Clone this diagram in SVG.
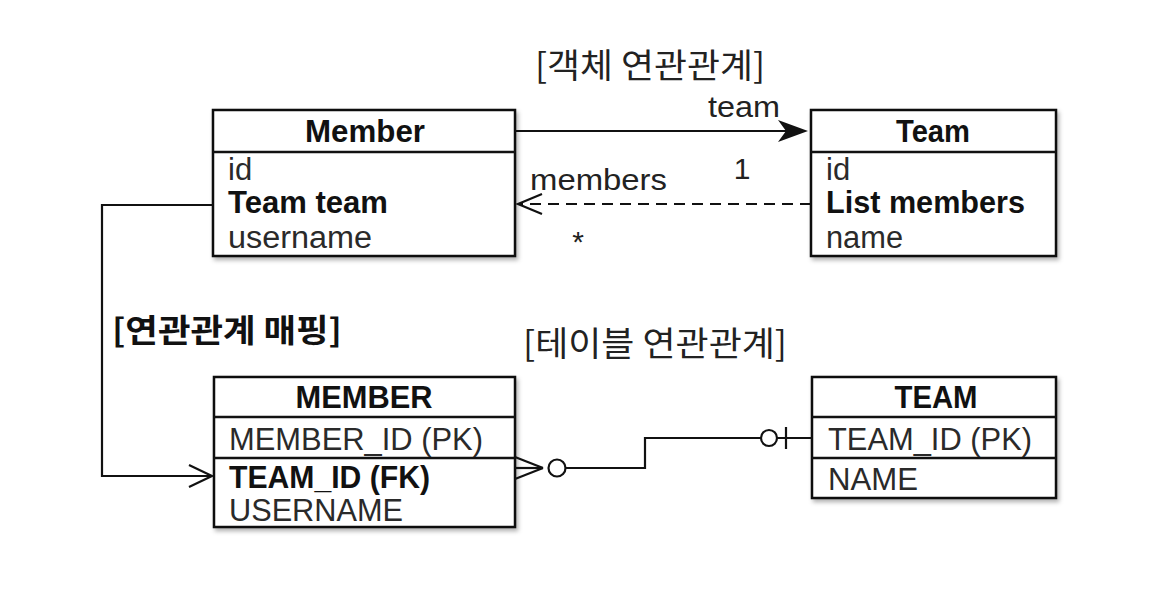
<svg xmlns="http://www.w3.org/2000/svg" width="1174" height="590" viewBox="0 0 1174 590">
  <defs>
    <filter id="shadow" x="-10%" y="-10%" width="130%" height="130%">
      <feDropShadow dx="2" dy="3" stdDeviation="2" flood-color="#000" flood-opacity="0.3"/>
    </filter>
    <style>
      .box { fill: #fff; stroke: #111; stroke-width: 2.5; }
      .div { stroke: #111; stroke-width: 2.5; }
      .hdr { font-family: "Liberation Sans", Arial, sans-serif; font-weight: bold; font-size: 32px; fill: #111; text-anchor: middle; }
      .fld { font-family: "Liberation Sans", Arial, sans-serif; font-size: 31px; fill: #2a2a2a; }
      .fldb { font-family: "Liberation Sans", Arial, sans-serif; font-size: 31px; font-weight: bold; fill: #111; }
      .lbl { font-family: "Liberation Sans", Arial, sans-serif; font-size: 30px; fill: #222; }
      .ko { font-family: "Noto Sans CJK KR", "Liberation Sans", sans-serif; font-size: 34px; fill: #222; }
      .kob { font-family: "Noto Sans CJK KR", "Liberation Sans", sans-serif; font-size: 32px; font-weight: bold; fill: #111; }
      .ln { fill: none; stroke: #111; stroke-width: 2.2; }
      .dash { fill: none; stroke: #111; stroke-width: 2.2; stroke-dasharray: 11 7; }
    </style>
  </defs>
  <rect width="1174" height="590" fill="#fff"/>

  <text class="ko" x="535" y="78" textLength="230" lengthAdjust="spacingAndGlyphs">[객체 연관관계]</text>
  <text class="ko" x="523" y="356" textLength="264" lengthAdjust="spacingAndGlyphs">[테이블 연관관계]</text>
  <text class="kob" x="112" y="342" textLength="230" lengthAdjust="spacingAndGlyphs">[연관관계 매핑]</text>

  <g id="member">
    <rect class="box" x="213" y="110" width="302" height="146" filter="url(#shadow)"/>
    <line class="div" x1="213" y1="152" x2="515" y2="152"/>
    <text class="hdr" x="365" y="142" textLength="120" lengthAdjust="spacingAndGlyphs">Member</text>
    <text class="fld" x="228" y="180">id</text>
    <text class="fldb" x="228" y="213" textLength="160" lengthAdjust="spacingAndGlyphs">Team team</text>
    <text class="fld" x="228" y="248" textLength="144" lengthAdjust="spacingAndGlyphs">username</text>
  </g>

  <g id="team">
    <rect class="box" x="811" y="110" width="245" height="146" filter="url(#shadow)"/>
    <line class="div" x1="811" y1="152" x2="1056" y2="152"/>
    <text class="hdr" x="933" y="142" textLength="74" lengthAdjust="spacingAndGlyphs">Team</text>
    <text class="fld" x="826" y="180">id</text>
    <text class="fldb" x="826" y="213" textLength="199" lengthAdjust="spacingAndGlyphs">List members</text>
    <text class="fld" x="826" y="248" textLength="77" lengthAdjust="spacingAndGlyphs">name</text>
  </g>

  <g id="MEMBER">
    <rect class="box" x="214" y="377" width="301" height="150" filter="url(#shadow)"/>
    <line class="div" x1="214" y1="417" x2="515" y2="417"/>
    <line class="div" x1="214" y1="458" x2="515" y2="458"/>
    <text class="hdr" x="364" y="408" textLength="137" lengthAdjust="spacingAndGlyphs">MEMBER</text>
    <text class="fld" x="229" y="450" textLength="254" lengthAdjust="spacingAndGlyphs">MEMBER_ID (PK)</text>
    <text class="fldb" x="229" y="488" textLength="201" lengthAdjust="spacingAndGlyphs">TEAM_ID (FK)</text>
    <text class="fld" x="229" y="521" textLength="174" lengthAdjust="spacingAndGlyphs">USERNAME</text>
  </g>

  <g id="TEAM">
    <rect class="box" x="812" y="377" width="244" height="121" filter="url(#shadow)"/>
    <line class="div" x1="812" y1="417" x2="1056" y2="417"/>
    <line class="div" x1="812" y1="458" x2="1056" y2="458"/>
    <text class="hdr" x="936" y="408" textLength="83" lengthAdjust="spacingAndGlyphs">TEAM</text>
    <text class="fld" x="828" y="450" textLength="204" lengthAdjust="spacingAndGlyphs">TEAM_ID (PK)</text>
    <text class="fld" x="828" y="490" textLength="90" lengthAdjust="spacingAndGlyphs">NAME</text>
  </g>

  <g id="connectors">
    <!-- team association -->
    <line class="ln" x1="515" y1="131" x2="790" y2="131"/>
    <path d="M808,131 L778,120 L786,131 L778,142 Z" fill="#111"/>
    <text class="lbl" x="708" y="117" textLength="72" lengthAdjust="spacingAndGlyphs">team</text>
    <text class="lbl" x="742" y="179" text-anchor="middle">1</text>

    <!-- members association -->
    <line class="dash" x1="811" y1="204" x2="520" y2="204"/>
    <polyline class="ln" points="542,194 518,204 542,214"/>
    <text class="lbl" x="530" y="190" textLength="137" lengthAdjust="spacingAndGlyphs">members</text>
    <text class="lbl" x="578" y="252" text-anchor="middle" font-size="28">*</text>

    <!-- mapping -->
    <polyline class="ln" points="213,205 102,205 102,476 211,476"/>
    <polyline class="ln" points="189,465 212,476 189,487"/>

    <!-- ER relationship -->
    <line class="ln" x1="515" y1="457" x2="543" y2="468"/>
    <line class="ln" x1="515" y1="479" x2="543" y2="468"/>
    <line class="ln" x1="515" y1="468" x2="543" y2="468"/>
    <circle class="ln" cx="557" cy="468" r="8.5" fill="#fff"/>
    <polyline class="ln" points="565.5,468 645,468 645,438 761,438"/>
    <circle class="ln" cx="769" cy="438" r="8" fill="#fff"/>
    <line class="ln" x1="777" y1="438" x2="812" y2="438"/>
    <line class="ln" x1="786" y1="427" x2="786" y2="449"/>
  </g>
</svg>
